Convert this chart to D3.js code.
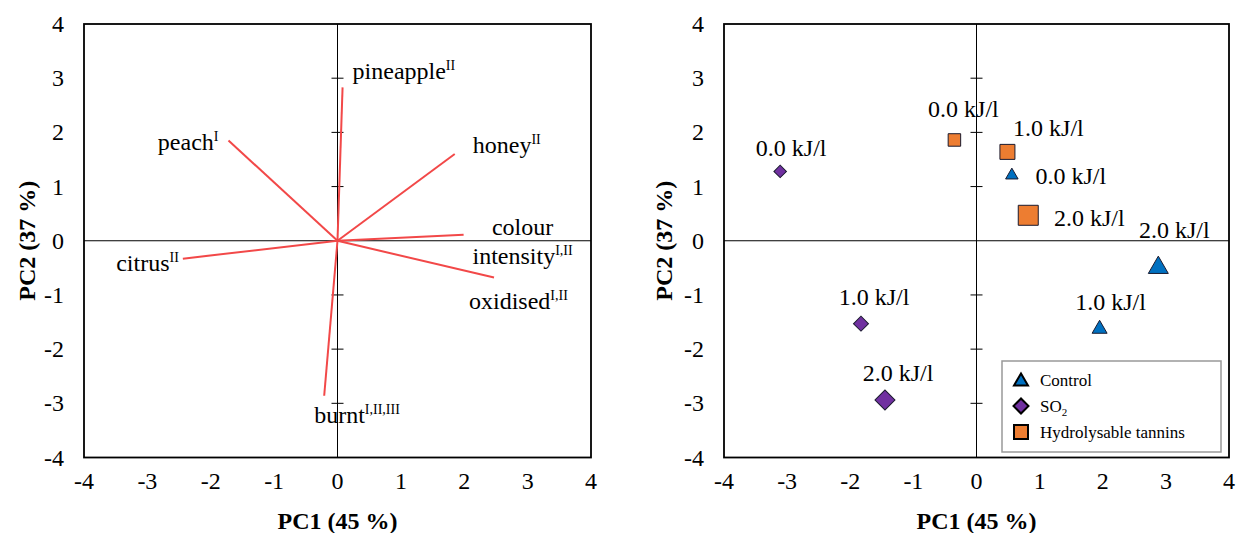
<!DOCTYPE html>
<html>
<head>
<meta charset="utf-8">
<script src="https://cdn.jsdelivr.net/npm/d3@7"></script>
<style>
  body { margin: 0; background: #fff; }
  svg text { font-family: "Liberation Serif", "Times New Roman", serif; fill: #000; }
</style>
</head>
<body>
<svg id="chart" width="1237" height="533"></svg>
<script>
// loadings (left biplot)
const attrNames = ["pineapple", "peach", "honey", "colour intensity", "oxidised", "citrus", "burnt"];
const attrSup = ["II", "I", "II", "I,II", "I,II", "II", "I,II,III"];
const attrPC1 = [0.08, -1.72, 1.85, 1.99, 2.47, -2.44, -0.21];
const attrPC2 = [2.83, 1.85, 1.60, 0.11, -0.68, -0.33, -2.86];

// scores (right plot)
const groups = ["Control", "SO2", "Hydrolysable tannins"];
const doses = ["0.0 kJ/l", "1.0 kJ/l", "2.0 kJ/l"];
const controlPC1 = [0.56, 1.95, 2.88];
const controlPC2 = [1.23, -1.60, -0.46];
const so2PC1 = [-3.11, -1.83, -1.45];
const so2PC2 = [1.28, -1.53, -2.94];
const tanninPC1 = [-0.35, 0.49, 0.82];
const tanninPC2 = [1.86, 1.64, 0.47];

const ticks = [-4, -3, -2, -1, 0, 1, 2, 3, 4];

const svg = d3.select("#chart");
const plotTop = 24, plotBottom = 457.5;

// label placement in px relative to the end point (layout only)
const attrLabelPos = {
  "pineapple": { dx: 10, dy: -8, anchor: "start" },
  "peach": { dx: -10, dy: 9, anchor: "end" },
  "honey": { dx: 18, dy: -1, anchor: "start" },
  "colour intensity": { dx: 59, dy: 0, anchor: "middle" },
  "oxidised": { dx: -25, dy: 31, anchor: "start" },
  "citrus": { dx: -4, dy: 12, anchor: "end" },
  "burnt": { dx: -10, dy: 27, anchor: "start" }
};
const scoreLabelPos = {
  "Control": [[59, 10], [11, -17], [16, -28]],
  "SO2": [[11, -15], [13, -19], [13, -19]],
  "Hydrolysable tannins": [[9, -23], [41, -16], [61, 11]]
};

const colors = { "Control": "#0070C0", "SO2": "#7030A0", "Hydrolysable tannins": "#ED7D31" };
const doseSize = d3.scaleOrdinal().domain(doses).range([12.5, 15, 20]);

function panel(left, right, labelX) {
  const x = d3.scaleLinear().domain([-4, 4]).range([left, right]);
  const y = d3.scaleLinear().domain([-4, 4]).range([plotBottom, plotTop]);
  const g = svg.append("g");

  // frame
  g.append("rect").attr("x", left).attr("y", plotTop)
    .attr("width", right - left).attr("height", plotBottom - plotTop)
    .attr("fill", "none").attr("stroke", "#000").attr("stroke-width", 1.8);

  // zero lines
  g.append("line").attr("x1", left).attr("x2", right).attr("y1", y(0)).attr("y2", y(0))
    .attr("stroke", "#000").attr("stroke-width", 1);
  g.append("line").attr("x1", x(0)).attr("x2", x(0)).attr("y1", plotTop).attr("y2", plotBottom)
    .attr("stroke", "#000").attr("stroke-width", 1);

  // tick crosses on the vertical zero line
  g.selectAll(".ytick").data(ticks.filter(t => t !== 0 && Math.abs(t) < 4)).join("line")
    .attr("x1", x(0) - 6).attr("x2", x(0) + 6)
    .attr("y1", d => y(d)).attr("y2", d => y(d))
    .attr("stroke", "#000").attr("stroke-width", 1);

  // tick labels
  g.selectAll(".xl").data(ticks).join("text")
    .attr("x", d => x(d)).attr("y", 489)
    .attr("text-anchor", "middle").attr("font-size", 24)
    .text(d => d);
  g.selectAll(".yl").data(ticks).join("text")
    .attr("x", left - 20).attr("y", d => y(d))
    .attr("text-anchor", "end").attr("dominant-baseline", "central").attr("font-size", 24)
    .text(d => d);

  // axis titles
  g.append("text").attr("x", (left + right) / 2).attr("y", 529)
    .attr("text-anchor", "middle").attr("font-size", 24).attr("font-weight", "bold")
    .text("PC1 (45 %)");
  g.append("text")
    .attr("transform", `translate(${labelX},${(plotTop + plotBottom) / 2}) rotate(-90)`)
    .attr("text-anchor", "middle").attr("font-size", 24).attr("font-weight", "bold")
    .text("PC2 (37 %)");

  return { g, x, y };
}

// ---- left: loadings ----
const L = panel(84, 591, 35);
attrNames.forEach((name, i) => {
  const ex = L.x(attrPC1[i]), ey = L.y(attrPC2[i]);
  L.g.append("line")
    .attr("x1", L.x(0)).attr("y1", L.y(0)).attr("x2", ex).attr("y2", ey)
    .attr("stroke", "#F24848").attr("stroke-width", 2);

  const pos = attrLabelPos[name];
  const words = name.split(" ");
  const t = L.g.append("text")
    .attr("x", ex + pos.dx).attr("y", ey + pos.dy)
    .attr("text-anchor", pos.anchor).attr("font-size", 24);
  if (words.length > 1) {
    // two line label: colour / intensity
    L.g.append("text").attr("x", ex + pos.dx).attr("y", ey + pos.dy)
      .attr("text-anchor", "middle").attr("font-size", 24).text(words[0]);
    t.attr("y", ey + pos.dy + 29);
    t.append("tspan").text(words[1]);
  } else {
    t.append("tspan").text(name);
  }
  t.append("tspan").attr("dy", -9).attr("font-size", 14).text(attrSup[i]);
});

// ---- right: scores ----
const R = panel(724, 1229, 672);
const scoreData = [
  { group: "Control", pc1: controlPC1, pc2: controlPC2 },
  { group: "SO2", pc1: so2PC1, pc2: so2PC2 },
  { group: "Hydrolysable tannins", pc1: tanninPC1, pc2: tanninPC2 }
];

function marker(sel, group, side) {
  if (group === "Control") {
    const area = side * side * Math.sqrt(3) / 4;
    sel.attr("d", d3.symbol(d3.symbolTriangle, area)());
  } else if (group === "SO2") {
    const s = side / Math.SQRT2;
    sel.attr("d", d3.symbol(d3.symbolSquare, s * s)());
  } else {
    sel.attr("d", d3.symbol(d3.symbolSquare, side * side)());
  }
  return sel;
}

scoreData.forEach(s => {
  doses.forEach((dose, i) => {
    const cx = R.x(s.pc1[i]), cy = R.y(s.pc2[i]);
    const side = doseSize(dose);
    const p = R.g.append("path")
      .attr("fill", colors[s.group]).attr("stroke", "#1a1a2e").attr("stroke-width", 1);
    marker(p, s.group, side);
    const rot = s.group === "SO2" ? " rotate(45)" : "";
    const shift = s.group === "Control" ? side * 0.1 : 0;
    p.attr("transform", `translate(${cx},${cy + shift})${rot}`);

    const off = scoreLabelPos[s.group][i];
    R.g.append("text").attr("x", cx + off[0]).attr("y", cy + off[1])
      .attr("text-anchor", "middle").attr("font-size", 24).text(dose);
  });
});

// legend
const lg = R.g.append("g");
lg.append("rect").attr("x", 1002).attr("y", 361).attr("width", 219).attr("height", 91)
  .attr("fill", "#fff").attr("stroke", "#999").attr("stroke-width", 1.5);
groups.forEach((grp, i) => {
  const cy = 380 + i * 26;
  const p = lg.append("path").attr("fill", colors[grp]).attr("stroke", "#000").attr("stroke-width", 2);
  marker(p, grp, grp === "SO2" ? 15 : 14);
  const rot = grp === "SO2" ? " rotate(45)" : "";
  p.attr("transform", `translate(1021,${cy + (grp === "Control" ? 1.5 : 0)})${rot}`);
  const t = lg.append("text").attr("x", 1040).attr("y", cy + 6).attr("font-size", 17);
  if (grp === "SO2") {
    t.append("tspan").text("SO");
    t.append("tspan").attr("dy", 4).attr("font-size", 11).text("2");
  } else {
    t.text(grp);
  }
});
</script>
</body>
</html>
